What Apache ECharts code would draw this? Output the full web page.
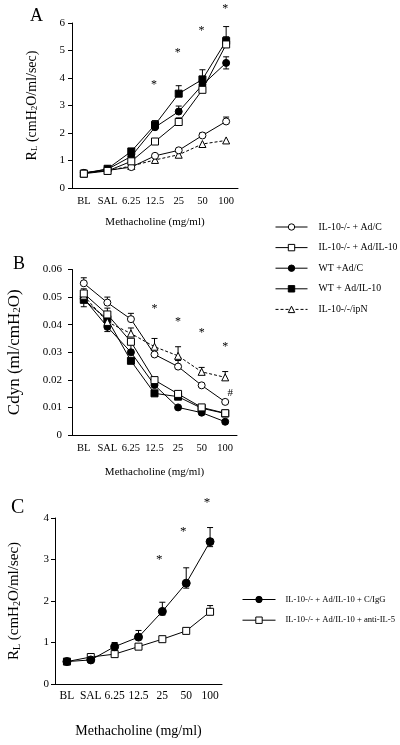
<!DOCTYPE html>
<html><head><meta charset="utf-8">
<script src="https://cdn.jsdelivr.net/npm/echarts@6/dist/echarts.min.js"></script>
<style>html,body{margin:0;padding:0;background:#fff}#c{width:400px;height:745px}</style>
</head><body><div id="c"></div>
<script>
// ---------- data ----------
const categories = ['BL', 'SAL', '6.25', '12.5', '25', '50', '100'];
const namesAB = ['IL-10-/- + Ad/C', 'IL-10-/- + Ad/IL-10', 'WT +Ad/C', 'WT + Ad/IL-10', 'IL-10-/-/ipN'];
const namesC = ['IL-10-/- + Ad/IL-10 + C/IgG', 'IL-10-/- + Ad/IL-10 + anti-IL-5'];

// Panel A: RL (cmH2O/ml/sec)
const aOpenCircle   = [0.55, 0.64, 0.76, 1.17, 1.37, 1.91, 2.42];
const aOpenSquare   = [0.52, 0.62, 0.97, 1.69, 2.40, 3.57, 5.22];
const aFilledCircle = [0.55, 0.68, 1.15, 2.21, 2.78, 3.75, 4.55];
const aFilledSquare = [0.52, 0.70, 1.33, 2.30, 3.43, 3.95, 5.35];
const aTriangle     = [0.55, 0.63, 0.80, 1.02, 1.21, 1.60, 1.73];
const aOpenCircleHi   = [null, null, null, null, null, 2.00, 2.58];
const aOpenSquareHi   = [null, null, null, null, 2.55, 3.70, 5.50];
const aFilledCircleHi = [null, null, null, 2.35, 2.98, null, 4.77];
const aFilledCircleLo = [null, null, null, null, null, null, 4.33];
const aFilledSquareHi = [null, null, 1.42, 2.45, 3.72, 4.30, 5.87];
const aStars = [null, null, null, 3.84, 4.97, 5.78, 6.60];

// Panel B: Cdyn (ml/cmH2O)
const bOpenCircle   = [0.0550, 0.0480, 0.0420, 0.0292, 0.0248, 0.0180, 0.0120];
const bOpenSquare   = [0.0513, 0.0437, 0.0338, 0.0199, 0.0149, 0.0100, 0.0079];
const bFilledCircle = [0.0495, 0.0392, 0.0300, 0.0181, 0.0100, 0.0081, 0.0048];
const bFilledSquare = [0.0490, 0.0420, 0.0269, 0.0151, 0.0139, 0.0097, 0.0078];
const bTriangle     = [0.0505, 0.0410, 0.0368, 0.0320, 0.0287, 0.0229, 0.0209];
const bOpenCircleHi   = [0.0570, 0.0500, 0.0441, null, 0.0270, null, null];
const bOpenSquareHi   = [0.0530, 0.0460, null, null, null, null, null];
const bOpenSquareLo   = [null, null, 0.0308, null, null, null, null];
const bTriangleHi     = [null, null, 0.0388, 0.0350, 0.0320, 0.0245, 0.0230];
const bFilledCircleLo = [0.0465, 0.0375, null, null, null, null, null];
const bStars = [null, null, null, 0.0465, 0.0419, 0.0377, 0.0326];
const bHash  = [null, null, null, null, null, null, 0.0151];

// Panel C: RL (cmH2O/ml/sec)
const cFilledCircle = [0.54, 0.58, 0.90, 1.13, 1.75, 2.43, 3.43];
const cOpenSquare   = [0.54, 0.65, 0.72, 0.90, 1.08, 1.28, 1.74];
const cFilledCircleHi = [null, null, 1.00, 1.29, 1.97, 2.80, 3.77];
const cFilledCircleLo = [null, null, null, null, 1.66, 2.31, 3.31];
const cOpenSquareHi   = [null, null, null, null, null, null, 1.89];
const cStars = [null, null, null, null, 3.05, 3.73, 4.43];

// ---------- chart ----------
const fontFam = '"Liberation Serif", "DejaVu Serif", serif';
const chart = echarts.init(document.getElementById('c'), null, {renderer: 'canvas'});

function lineSeries(name, data, gi, sym, filled, dashed, size) {
  return {
    type: 'line', name, data, xAxisIndex: gi, yAxisIndex: gi, z: 3,
    symbol: sym, symbolSize: size || 7, showSymbol: true,
    lineStyle: {color: '#000', width: 1, type: dashed ? [3, 2] : 'solid'},
    itemStyle: {color: filled ? '#000' : '#fff', borderColor: '#000', borderWidth: 1},
    emphasis: {disabled: true}, animation: false
  };
}
function errSeries(gi, mean, hi, lo) {
  const data = [];
  mean.forEach((m, i) => {
    const h = hi && hi[i] != null ? hi[i] : null;
    const l = lo && lo[i] != null ? lo[i] : null;
    if (h == null && l == null) return;
    data.push([i, l != null ? l : m, h != null ? h : m, l != null ? 1 : 0, h != null ? 1 : 0]);
  });
  return {
    type: 'custom', xAxisIndex: gi, yAxisIndex: gi, z: 2, silent: true, animation: false, data,
    renderItem: (p, api) => {
      const x = api.value(0);
      const pl = api.coord([x, api.value(1)]);
      const ph = api.coord([x, api.value(2)]);
      const w = 3;
      const st = {stroke: '#000', lineWidth: 1};
      const ch = [{type: 'line', shape: {x1: ph[0], y1: ph[1], x2: pl[0], y2: pl[1]}, style: st}];
      if (api.value(4)) ch.push({type: 'line', shape: {x1: ph[0] - w, y1: ph[1], x2: ph[0] + w, y2: ph[1]}, style: st});
      if (api.value(3)) ch.push({type: 'line', shape: {x1: pl[0] - w, y1: pl[1], x2: pl[0] + w, y2: pl[1]}, style: st});
      return {type: 'group', children: ch};
    }
  };
}
function markSeries(gi, arr, txt, dx, dy, fs) {
  const data = [];
  arr.forEach((v, i) => { if (v != null) data.push([i, v]); });
  return {
    type: 'custom', xAxisIndex: gi, yAxisIndex: gi, z: 4, silent: true, clip: false, animation: false, data,
    renderItem: (p, api) => {
      const pt = api.coord([api.value(0), api.value(1)]);
      return {type: 'text', x: pt[0] + dx, y: pt[1] + dy,
        style: {text: txt, font: fs + 'px ' + fontFam, fill: '#000', align: 'center', verticalAlign: 'middle'}};
    }
  };
}
function xAx(gi, fs, margin, nameGap, nameFs) {
  return {
    type: 'category', gridIndex: gi, data: categories, boundaryGap: true,
    axisLine: {lineStyle: {color: '#000', width: 1}},
    axisTick: {alignWithLabel: true, length: 3, interval: 0, lineStyle: {color: '#000'}},
    axisLabel: {color: '#000', fontFamily: fontFam, fontSize: fs, margin, interval: 0},
    splitLine: {show: false},
    name: 'Methacholine (mg/ml)', nameLocation: 'middle', nameGap,
    nameTextStyle: {color: '#000', fontFamily: fontFam, fontSize: nameFs}
  };
}
function yAx(gi, max, interval, fs, margin, name, nameGap, nameFs, fmt) {
  return {
    type: 'value', gridIndex: gi, min: 0, max, interval,
    axisLine: {show: true, lineStyle: {color: '#000', width: 1}},
    axisTick: {show: true, length: 4, lineStyle: {color: '#000'}},
    axisLabel: {color: '#000', fontFamily: fontFam, fontSize: fs, margin, formatter: fmt},
    splitLine: {show: false},
    name, nameLocation: 'middle', nameGap,
    nameTextStyle: {color: '#000', fontFamily: fontFam, fontSize: nameFs,
      rich: {n: {fontFamily: fontFam, fontSize: nameFs, color: '#000'},
             s: {fontFamily: fontFam, fontSize: Math.round(nameFs * 0.65), color: '#000', verticalAlign: 'bottom'}}}
  };
}
const legendBase = {
  orient: 'vertical', padding: 0, selectedMode: false, itemHeight: 8,
  lineStyle: {width: 1}, itemStyle: {borderWidth: 1}
};

const option = {
  backgroundColor: '#fff',
  animation: false,
  title: [
    {text: 'A', left: 25, top: 2, textStyle: {fontFamily: fontFam, fontSize: 18, fontWeight: 'normal', color: '#000'}},
    {text: 'B', left: 8, top: 250, textStyle: {fontFamily: fontFam, fontSize: 18, fontWeight: 'normal', color: '#000'}},
    {text: 'C', left: 6, top: 493, textStyle: {fontFamily: fontFam, fontSize: 20, fontWeight: 'normal', color: '#000'}}
  ],
  grid: [
    {left: 72, top: 23, width: 166, height: 165},
    {left: 72, top: 269.5, width: 165, height: 165.5},
    {left: 55, top: 518, width: 167, height: 166}
  ],
  xAxis: [
    xAx(0, 10.5, 8, 29, 11),
    xAx(1, 10.5, 8, 32, 11),
    xAx(2, 11.5, 6, 40, 14)
  ],
  yAxis: [
    yAx(0, 6, 1, 11, 7, '{n|R}{s|L}{n| (cmH}{s|2}{n|O/ml/sec)}', 33, 14),
    yAx(1, 0.06, 0.01, 11, 10, '{n|Cdyn (ml/cmH}{s|2}{n|O)}', 49, 17, v => v === 0 ? '0' : v.toFixed(2)),
    yAx(2, 4, 1, 11, 6, '{n|R}{s|L}{n| (cmH}{s|2}{n|O/ml/sec)}', 33, 15)
  ],
  legend: [
    Object.assign({}, legendBase, {data: namesAB, left: 275, top: 222, itemWidth: 32, itemGap: 10.6,
      textStyle: {fontFamily: fontFam, fontSize: 9.8, color: '#000', padding: [0, 0, 0, 6]}}),
    Object.assign({}, legendBase, {data: namesC, left: 242, top: 595, itemWidth: 33, itemGap: 11.7,
      textStyle: {fontFamily: fontFam, fontSize: 8.6, color: '#000', padding: [0, 0, 0, 5]}})
  ],
  series: [
    // Panel A
    errSeries(0, aOpenCircle, aOpenCircleHi),
    errSeries(0, aOpenSquare, aOpenSquareHi),
    errSeries(0, aFilledCircle, aFilledCircleHi, aFilledCircleLo),
    errSeries(0, aFilledSquare, aFilledSquareHi),
    lineSeries(namesAB[3], aFilledSquare, 0, 'rect', true, false),
    lineSeries(namesAB[2], aFilledCircle, 0, 'circle', true, false),
    lineSeries(namesAB[4], aTriangle, 0, 'triangle', false, true),
    lineSeries(namesAB[0], aOpenCircle, 0, 'circle', false, false),
    lineSeries(namesAB[1], aOpenSquare, 0, 'rect', false, false),
    markSeries(0, aStars, '*', -1, 2, 12),
    // Panel B
    errSeries(1, bOpenCircle, bOpenCircleHi),
    errSeries(1, bOpenSquare, bOpenSquareHi, bOpenSquareLo),
    errSeries(1, bTriangle, bTriangleHi),
    errSeries(1, bFilledCircle, null, bFilledCircleLo),
    lineSeries(namesAB[3], bFilledSquare, 1, 'rect', true, false),
    lineSeries(namesAB[2], bFilledCircle, 1, 'circle', true, false),
    lineSeries(namesAB[4], bTriangle, 1, 'triangle', false, true),
    lineSeries(namesAB[0], bOpenCircle, 1, 'circle', false, false),
    lineSeries(namesAB[1], bOpenSquare, 1, 'rect', false, false),
    markSeries(1, bStars, '*', 0, 2, 12),
    markSeries(1, bHash, '#', 5, 0, 11),
    // Panel C
    errSeries(2, cFilledCircle, cFilledCircleHi, cFilledCircleLo),
    errSeries(2, cOpenSquare, cOpenSquareHi),
    lineSeries(namesC[1], cOpenSquare, 2, 'rect', false, false, 7),
    lineSeries(namesC[0], cFilledCircle, 2, 'circle', true, false, 8),
    markSeries(2, cStars, '*', -3, 2, 13)
  ]
};
chart.setOption(option);
</script>
</body></html>
